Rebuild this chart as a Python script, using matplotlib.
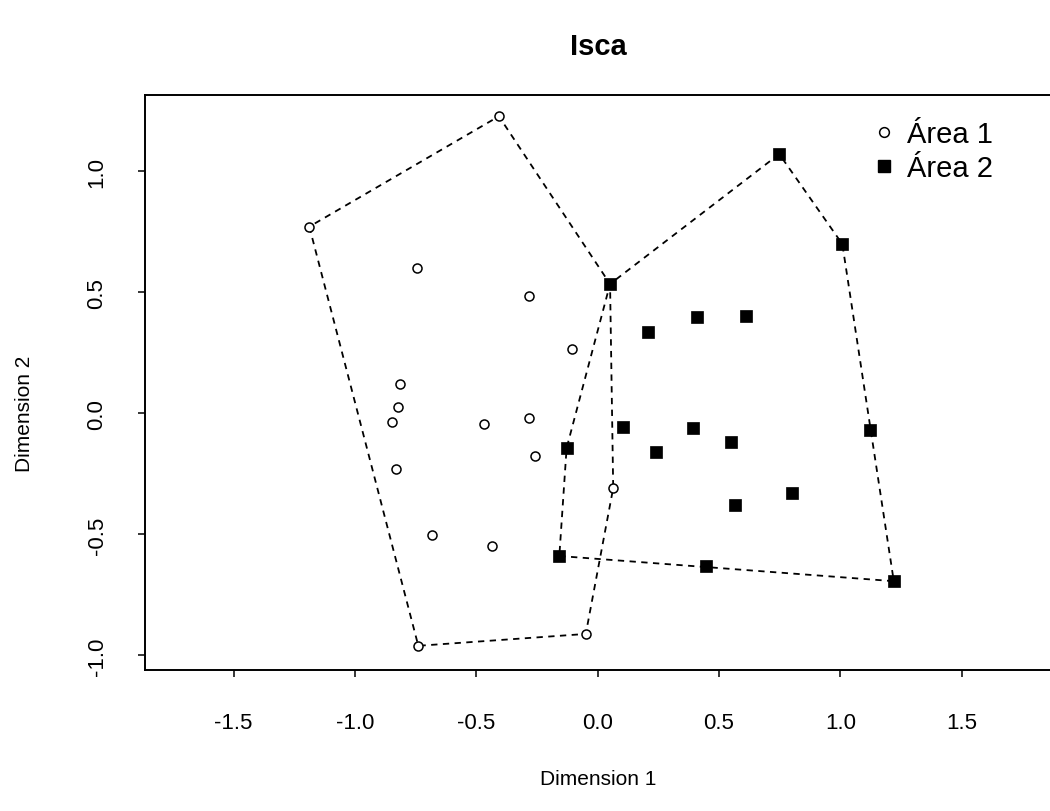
import numpy as np
import matplotlib
matplotlib.use("Agg")
import matplotlib.pyplot as plt
from matplotlib.lines import Line2D

plt.rcParams['font.family'] = ['Liberation Sans', 'DejaVu Sans']

# MDS coordinates
area1_x = [-0.407, -1.188, -0.746, -0.282, -0.105, -0.815, -0.823, -0.846, -0.467,
           -0.282, -0.260, -0.831, 0.064, -0.684, -0.436, -0.739, -0.049, 0.051]
area1_y = [1.228, 0.772, 0.600, 0.484, 0.268, 0.120, 0.026, -0.036, -0.043,
           -0.020, -0.176, -0.231, -0.308, -0.501, -0.548, -0.960, -0.911, 0.535]

area2_x = [0.748, 1.008, 0.051, 0.208, 0.409, 0.610, -0.128, -0.158, 0.105,
           0.394, 0.239, 0.548, 1.121, 0.799, 0.564, 0.447, 1.220]
area2_y = [1.072, 0.700, 0.535, 0.336, 0.398, 0.404, -0.143, -0.589, -0.057,
           -0.060, -0.160, -0.118, -0.068, -0.327, -0.377, -0.630, -0.693]

labels = ['Área 1', 'Área 2']
x_ticks = [-1.5, -1.0, -0.5, 0.0, 0.5, 1.0, 1.5]
y_ticks = [-1.0, -0.5, 0.0, 0.5, 1.0]


def hull(xs, ys):
    # monotone chain convex hull, returns closed polygon
    pts = sorted(set(zip(xs, ys)))

    def cross(o, a, b):
        return (a[0] - o[0]) * (b[1] - o[1]) - (a[1] - o[1]) * (b[0] - o[0])

    lower = []
    for p in pts:
        while len(lower) >= 2 and cross(lower[-2], lower[-1], p) <= 0:
            lower.pop()
        lower.append(p)
    upper = []
    for p in reversed(pts):
        while len(upper) >= 2 and cross(upper[-2], upper[-1], p) <= 0:
            upper.pop()
        upper.append(p)
    poly = lower[:-1] + upper[:-1]
    poly.append(poly[0])
    return [p[0] for p in poly], [p[1] for p in poly]


fig = plt.figure(figsize=(10.5, 8.12), dpi=100)
ax = fig.add_axes([145 / 1050, 1 - 671 / 812, 917 / 1050, 575 / 812])

dash = (0, (3.5, 3))
for xs, ys in [(area1_x, area1_y), (area2_x, area2_y)]:
    hx, hy = hull(xs, ys)
    ax.plot(hx, hy, color='black', lw=1.3, linestyle=dash, zorder=1)

ax.plot(area1_x, area1_y, linestyle='none', marker='o', ms=6.5, mfc='white',
        mec='black', mew=1.1, zorder=2)
ax.plot(area2_x, area2_y, linestyle='none', marker='s', ms=8.6, mfc='black',
        mec='black', mew=0.5, zorder=3)

ax.set_xlim(-1.865, 1.913)
ax.set_ylim(-1.06, 1.316)
ax.set_xticks(x_ticks)
ax.set_yticks(y_ticks)
ax.set_xticklabels(['%.1f' % v for v in x_ticks], fontsize=16)
ax.set_yticklabels(['%.1f' % v for v in y_ticks], fontsize=16, rotation=90,
                   va='center')
ax.tick_params(direction='out', length=5, width=1.1, pad=25)
ax.tick_params(axis='y', pad=22)
for s in ax.spines.values():
    s.set_linewidth(1.4)

ax.set_xlabel('Dimension 1', fontsize=15)
ax.set_ylabel('Dimension 2', fontsize=15)
ax.xaxis.set_label_coords((598 - 145) / 917, (671 - 770) / 575)
ax.yaxis.set_label_coords((34 - 145) / 917, (671 - 414) / 575)

ax.text((598 - 145) / 917, (671 - 47) / 575, 'Isca', transform=ax.transAxes,
        ha='center', va='center', fontsize=21, fontweight='bold')

handles = [Line2D([], [], linestyle='none', marker='o', ms=7, mfc='white',
                  mec='black', mew=1.1),
           Line2D([], [], linestyle='none', marker='s', ms=9, mfc='black',
                  mec='black')]
ax.legend(handles, labels, loc='upper left', frameon=False, fontsize=21,
          bbox_to_anchor=(875 / 1050, 1 - 121 / 812), bbox_transform=fig.transFigure,
          handlelength=0.6, handletextpad=0.5, labelspacing=0.2,
          borderaxespad=0, borderpad=0)

fig.savefig('out.png', dpi=100)
